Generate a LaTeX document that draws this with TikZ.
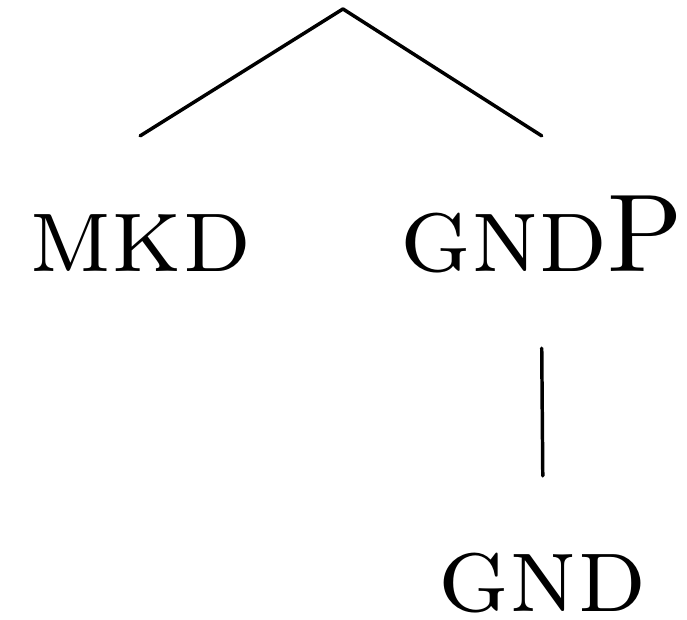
\documentclass[tikz,border=0pt]{standalone}
\begin{document}
\begin{tikzpicture}[x=1pt,y=1pt,
  edge/.style={line width=0.33pt, line cap=round},
  label/.style={anchor=base, inner xsep=0pt, inner ysep=5.54pt,
    text height=7.17pt, text depth=1.5pt,
    font=\fontsize{10.5}{12.6}\selectfont}]
  \useasboundingbox (0,0) rectangle (65.18,-58.82);
  \coordinate (root) at (32.54,-0.85);
  \node[label] (mkd)  at (13.3,-25.8)  {\textsc{mkd}};
  \node[label] (gndp) at (51.4,-25.8) {\textsc{gnd}P};
  \node[label] (gnd)  at (51.5,-58.06) {\textsc{gnd}};
  \draw[edge] (root) -- (mkd.north);
  \draw[edge] (root) -- (gndp.north);
  \draw[edge] (gndp.south) -- (gnd.north);
\end{tikzpicture}
\end{document}
